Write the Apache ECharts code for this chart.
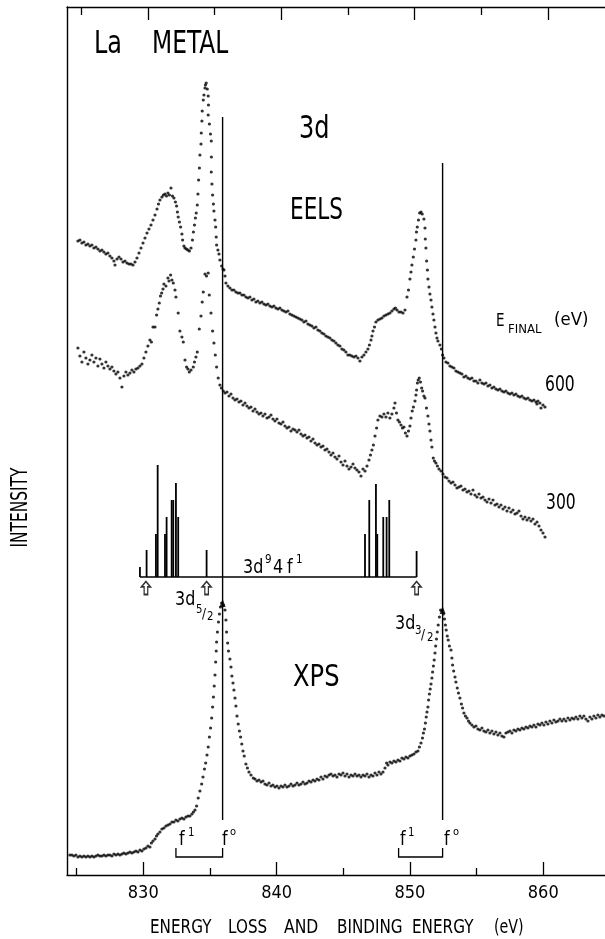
<!DOCTYPE html>
<html><head><meta charset="utf-8">
<script src="https://cdn.jsdelivr.net/npm/echarts@6/dist/echarts.min.js"></script>
<style>html,body{margin:0;padding:0;background:#fff}#c{width:605px;height:939px}</style>
</head><body><div id="c"></div>
<script>
// ---- data (energy in eV, intensity in arbitrary units) ----
const majorTicks = [830, 840, 850, 860];
const minorTicks = [825, 835, 845, 855];

const eels600 = [[825.10,634],[825.25,635],[825.40,632],[825.55,633],[825.70,630],[825.85,631],[826.00,629],[826.15,630],[826.30,627],[826.45,628],[826.60,626],[826.75,624],[826.90,625],[827.05,623],[827.20,621],[827.35,622],[827.50,619],[827.65,617],[827.80,614],[827.88,610],[828.03,616],[828.18,618],[828.33,616],[828.48,613],[828.63,614],[828.78,612],[828.93,611],[829.08,611],[829.23,610],[829.38,613],[829.53,617],[829.68,622],[829.83,627],[829.98,632],[830.13,637],[830.28,642],[830.43,646],[830.58,650],[830.73,655],[830.88,660],[831.03,666],[831.14,671],[831.25,675],[831.40,678],[831.51,680],[831.63,681],[831.74,679],[831.85,682],[831.96,680],[832.08,687],[832.19,679],[832.30,677],[832.41,673],[832.50,669],[832.56,663],[832.62,658],[832.71,653],[832.80,648],[832.90,641],[832.95,635],[833.05,629],[833.13,627],[833.24,626],[833.35,625],[833.46,624],[833.58,627],[833.69,635],[833.76,643],[833.84,650],[833.91,657],[833.97,662],[834.05,670],[834.10,681],[834.15,695],[834.21,707],[834.25,720],[834.33,731],[834.35,742],[834.40,754],[834.42,764],[834.50,775],[834.55,780],[834.63,787],[834.66,790],[834.72,792],[834.80,786],[834.87,779],[834.89,770],[834.87,760],[834.96,751],[835.04,741],[835.10,734],[835.11,718],[835.10,703],[835.15,691],[835.20,680],[835.26,671],[835.30,664],[835.38,655],[835.43,648],[835.47,638],[835.50,630],[835.60,625],[835.68,621],[835.75,615],[835.88,609],[835.98,606],[836.05,605],[836.13,599],[836.20,592],[836.35,589],[836.50,587],[836.65,585],[836.80,585],[836.95,583],[837.10,582],[837.25,582],[837.40,580],[837.55,580],[837.70,578],[837.85,577],[838.00,578],[838.15,575],[838.30,576],[838.45,573],[838.60,574],[838.75,572],[838.90,573],[839.05,571],[839.20,570],[839.35,571],[839.50,569],[839.65,568],[839.80,569],[839.95,567],[840.10,566],[840.25,567],[840.40,565],[840.55,564],[840.70,563],[840.85,564],[841.00,561],[841.15,560],[841.30,559],[841.45,558],[841.60,557],[841.75,556],[841.90,555],[842.05,553],[842.20,554],[842.35,551],[842.50,550],[842.65,549],[842.80,547],[842.95,548],[843.10,545],[843.25,544],[843.40,542],[843.55,541],[843.70,539],[843.85,538],[844.00,537],[844.15,535],[844.30,534],[844.45,532],[844.60,530],[844.75,529],[844.90,526],[845.05,525],[845.20,523],[845.35,520],[845.50,520],[845.65,519],[845.80,518],[845.95,519],[846.10,517],[846.25,514],[846.40,518],[846.55,520],[846.70,523],[846.85,526],[846.96,530],[847.08,535],[847.15,539],[847.23,544],[847.34,548],[847.45,553],[847.60,555],[847.75,556],[847.90,557],[848.05,559],[848.20,560],[848.35,561],[848.50,562],[848.65,564],[848.80,566],[848.91,567],[849.03,565],[849.18,563],[849.33,563],[849.48,562],[849.63,565],[849.78,578],[849.89,585],[850.00,596],[850.08,603],[850.15,610],[850.25,618],[850.34,626],[850.45,635],[850.49,643],[850.55,648],[850.64,655],[850.73,662],[850.83,663],[850.92,661],[851.05,656],[851.13,647],[851.15,636],[851.20,627],[851.25,614],[851.31,605],[851.35,596],[851.43,588],[851.50,581],[851.58,575],[851.65,568],[851.73,561],[851.80,555],[851.88,548],[851.95,542],[852.03,537],[852.10,534],[852.25,530],[852.36,526],[852.45,520],[852.55,517],[852.70,513],[852.85,512],[853.00,509],[853.15,508],[853.30,507],[853.45,504],[853.60,503],[853.75,502],[853.90,501],[854.05,498],[854.20,499],[854.35,497],[854.50,496],[854.65,497],[854.80,494],[854.95,494],[855.10,492],[855.25,495],[855.40,492],[855.55,491],[855.70,492],[855.85,489],[856.00,490],[856.15,487],[856.30,488],[856.45,486],[856.60,485],[856.75,486],[856.90,484],[857.05,483],[857.20,484],[857.35,482],[857.50,481],[857.65,482],[857.80,480],[857.95,481],[858.10,479],[858.25,478],[858.40,479],[858.55,477],[858.70,476],[858.85,477],[859.00,475],[859.15,474],[859.30,475],[859.45,473],[859.53,471],[859.60,474],[859.75,472],[859.83,467],[859.98,470],[860.13,468]];

const eels300 = [[825.10,527],[825.25,519],[825.40,513],[825.55,523],[825.70,517],[825.85,511],[826.00,515],[826.15,520],[826.30,513],[826.45,517],[826.60,509],[826.75,516],[826.90,511],[827.05,507],[827.20,513],[827.35,509],[827.50,506],[827.65,508],[827.80,504],[827.95,501],[828.10,503],[828.25,497],[828.40,488],[828.55,499],[828.70,503],[828.85,500],[829.00,502],[829.15,505],[829.30,503],[829.45,506],[829.60,507],[829.75,509],[829.90,511],[830.05,517],[830.20,523],[830.35,529],[830.50,535],[830.61,533],[830.73,548],[830.88,548],[831.00,560],[831.10,566],[831.20,572],[831.29,579],[831.38,582],[831.48,586],[831.55,591],[831.70,589],[831.85,597],[831.93,594],[832.05,600],[832.15,595],[832.25,592],[832.38,585],[832.45,578],[832.62,562],[832.75,544],[832.90,538],[833.00,533],[833.13,515],[833.25,508],[833.35,506],[833.45,503],[833.58,505],[833.75,508],[833.84,513],[833.95,518],[834.05,523],[834.20,546],[834.33,559],[834.42,573],[834.50,583],[834.63,601],[834.74,599],[834.87,602],[834.95,580],[835.08,562],[835.20,544],[835.30,532],[835.40,520],[835.50,508],[835.62,497],[835.75,490],[835.86,487],[836.00,484],[836.13,482],[836.28,483],[836.43,479],[836.58,481],[836.73,477],[836.88,475],[837.03,476],[837.18,473],[837.33,474],[837.48,470],[837.63,472],[837.78,469],[837.93,467],[838.08,468],[838.23,464],[838.38,466],[838.53,463],[838.68,461],[838.83,462],[838.98,459],[839.13,461],[839.28,457],[839.43,458],[839.58,460],[839.73,456],[839.88,454],[840.03,456],[840.18,452],[840.33,451],[840.48,453],[840.63,449],[840.78,447],[840.93,448],[841.08,444],[841.23,446],[841.38,445],[841.53,443],[841.68,445],[841.83,441],[841.98,439],[842.13,440],[842.28,437],[842.43,438],[842.58,434],[842.73,436],[842.88,432],[843.03,430],[843.18,431],[843.33,428],[843.48,429],[843.63,425],[843.78,426],[843.93,423],[844.08,420],[844.23,422],[844.38,418],[844.53,416],[844.68,419],[844.83,413],[844.98,410],[845.13,414],[845.28,409],[845.43,406],[845.58,408],[845.73,411],[845.88,407],[846.03,405],[846.18,403],[846.33,399],[846.48,406],[846.63,404],[846.78,409],[846.93,415],[847.04,420],[847.15,425],[847.26,430],[847.38,439],[847.50,447],[847.60,455],[847.75,459],[847.90,458],[848.05,461],[848.20,458],[848.35,462],[848.50,457],[848.65,461],[848.80,467],[848.88,472],[848.99,462],[849.10,455],[849.21,453],[849.33,450],[849.44,447],[849.55,448],[849.66,442],[849.78,439],[849.89,444],[850.00,449],[850.08,457],[850.17,464],[850.26,468],[850.38,474],[850.45,480],[850.50,485],[850.56,492],[850.62,495],[850.70,497],[850.79,493],[850.88,487],[850.95,484],[851.05,479],[851.13,477],[851.24,467],[851.35,459],[851.43,451],[851.50,444],[851.58,435],[851.65,428],[851.75,417],[851.84,414],[851.95,412],[852.06,409],[852.18,406],[852.33,404],[852.48,401],[852.63,398],[852.78,397],[852.93,394],[853.08,392],[853.23,393],[853.38,390],[853.53,387],[853.68,388],[853.83,389],[853.98,385],[854.13,386],[854.28,383],[854.43,384],[854.58,381],[854.73,385],[854.88,380],[855.03,378],[855.18,381],[855.33,377],[855.48,378],[855.63,375],[855.78,373],[855.93,376],[856.08,372],[856.23,375],[856.38,370],[856.53,371],[856.68,368],[856.83,370],[856.98,366],[857.13,368],[857.28,364],[857.43,367],[857.58,363],[857.73,365],[857.88,361],[858.03,362],[858.18,364],[858.33,359],[858.48,356],[858.63,358],[858.78,355],[858.93,357],[859.08,354],[859.23,356],[859.38,351],[859.53,353],[859.68,349],[859.83,345],[859.98,342],[860.13,338]];

const xps = [[824.50,20],[824.65,20],[824.80,19],[824.95,20],[825.10,18],[825.25,19],[825.40,18],[825.55,19],[825.70,18],[825.85,19],[826.00,18],[826.15,19],[826.30,18],[826.45,19],[826.60,20],[826.75,19],[826.90,19],[827.05,20],[827.20,19],[827.35,20],[827.50,20],[827.65,19],[827.80,21],[827.95,20],[828.10,21],[828.25,20],[828.40,21],[828.55,22],[828.70,21],[828.85,22],[829.00,23],[829.15,22],[829.30,23],[829.45,24],[829.60,23],[829.75,25],[829.90,24],[830.05,26],[830.20,27],[830.35,29],[830.50,28],[830.61,32],[830.73,34],[830.88,36],[830.99,39],[831.10,41],[831.25,43],[831.40,46],[831.55,47],[831.70,49],[831.85,50],[832.00,51],[832.15,53],[832.30,53],[832.45,55],[832.60,54],[832.75,56],[832.90,57],[833.05,56],[833.20,58],[833.35,59],[833.50,59],[833.65,61],[833.76,63],[833.88,65],[834.00,69],[834.12,77],[834.25,84],[834.38,91],[834.48,98],[834.59,106],[834.68,112],[834.78,120],[834.87,128],[834.96,138],[835.05,147],[835.13,157],[835.20,168],[835.26,178],[835.32,189],[835.38,200],[835.43,213],[835.47,224],[835.50,233],[835.56,243],[835.64,253],[835.71,261],[835.79,268],[835.88,272],[836.01,270],[836.13,265],[836.20,255],[836.25,243],[836.33,232],[836.39,224],[836.50,216],[836.58,208],[836.65,199],[836.73,192],[836.80,185],[836.88,177],[836.95,169],[837.03,159],[837.12,151],[837.21,144],[837.30,138],[837.39,131],[837.48,124],[837.57,119],[837.70,111],[837.81,107],[837.93,103],[838.08,100],[838.25,97],[838.38,96],[838.53,94],[838.68,95],[838.83,93],[838.98,94],[839.13,91],[839.28,90],[839.43,92],[839.58,89],[839.73,90],[839.88,88],[840.03,89],[840.18,87],[840.33,89],[840.48,88],[840.63,90],[840.78,88],[840.93,89],[841.08,91],[841.23,89],[841.38,90],[841.53,92],[841.68,90],[841.83,91],[841.98,93],[842.13,91],[842.28,92],[842.43,94],[842.58,93],[842.73,95],[842.88,94],[843.03,96],[843.18,95],[843.33,98],[843.48,96],[843.63,99],[843.78,98],[843.93,100],[844.08,101],[844.23,99],[844.38,100],[844.53,98],[844.68,101],[844.83,100],[844.98,102],[845.13,99],[845.28,101],[845.43,98],[845.58,100],[845.73,99],[845.88,101],[846.03,99],[846.18,100],[846.33,98],[846.48,100],[846.63,99],[846.78,101],[846.93,98],[847.08,100],[847.23,99],[847.38,102],[847.53,100],[847.68,103],[847.83,101],[847.98,103],[848.13,107],[848.25,112],[848.35,110],[848.50,113],[848.65,112],[848.80,114],[848.95,113],[849.10,115],[849.25,114],[849.40,117],[849.55,116],[849.70,118],[849.85,117],[850.00,119],[850.15,120],[850.30,121],[850.45,123],[850.60,124],[850.71,128],[850.83,132],[850.94,137],[851.01,142],[851.09,146],[851.16,152],[851.22,158],[851.28,163],[851.35,168],[851.40,175],[851.46,181],[851.52,186],[851.58,191],[851.65,197],[851.70,203],[851.76,209],[851.82,215],[851.88,222],[851.93,229],[851.99,236],[852.05,243],[852.12,250],[852.21,258],[852.30,265],[852.40,264],[852.51,261],[852.59,256],[852.66,250],[852.72,245],[852.80,239],[852.87,235],[852.96,229],[853.08,225],[853.15,217],[853.20,210],[853.28,204],[853.38,198],[853.45,193],[853.55,187],[853.64,182],[853.75,177],[853.86,171],[853.95,167],[854.05,162],[854.16,159],[854.28,157],[854.39,154],[854.50,152],[854.65,150],[854.80,148],[854.95,149],[855.10,146],[855.25,145],[855.40,147],[855.55,144],[855.70,143],[855.85,145],[856.00,142],[856.15,144],[856.30,141],[856.45,143],[856.60,140],[856.75,142],[856.90,139],[857.05,138],[857.20,142],[857.35,143],[857.50,144],[857.65,142],[857.80,145],[857.95,144],[858.10,146],[858.25,145],[858.40,147],[858.55,146],[858.70,148],[858.85,147],[859.00,149],[859.15,148],[859.30,150],[859.45,148],[859.60,151],[859.75,150],[859.90,152],[860.05,150],[860.20,153],[860.35,151],[860.50,154],[860.65,152],[860.80,155],[860.95,153],[861.10,154],[861.25,156],[861.40,154],[861.55,156],[861.70,154],[861.85,157],[862.00,155],[862.15,157],[862.30,156],[862.45,158],[862.60,156],[862.75,159],[862.90,157],[863.05,159],[863.20,156],[863.35,154],[863.50,158],[863.65,156],[863.80,159],[863.95,157],[864.10,160],[864.25,158],[864.40,160],[864.55,159]];

// 3d9 4f1 multiplet sticks: energies and heights above the stick baseline
const stickE = [829.75,830.25,830.95,831.08,831.63,831.75,832.13,832.25,832.45,832.62,834.75,846.63,846.95,847.45,847.55,848.00,848.25,848.45,850.50];
const stickH = [10,27,43,112,43,60,77,77,94,60,27,43,77,93,43,60,60,77,26];
const stickBase = 298;
const arrowE = [830.2, 834.75, 850.5];
const arrowLevel = 287;

// f0 reference lines and f1-f0 brackets
const f0E = [835.95, 852.45];
const f0Top = [758, 712];
const f0Bottom = 55;
const f1E = [832.45, 849.15];
const bracketBase = 18, bracketEnd = 27;
const xpsPeakI = [272, 265];

// ---- chart ----
const X_MIN = 824.28, X_MAX = 864.63, TOP_SHIFT = 0.34;
const INK = '#000';
const DOT = 3.2;
const FONT = '"DejaVu Sans", sans-serif';
const AXFONT = '"DejaVu Sans Condensed", "DejaVu Sans", sans-serif';

function xa(pos, customs, len, showLine, shift, showLabel) {
  return {
    type: 'value', gridIndex: 0, position: pos,
    min: X_MIN - shift, max: X_MAX - shift,
    axisLine: { show: showLine, onZero: false, lineStyle: { color: INK, width: 1.4 } },
    axisTick: { show: true, inside: true, length: len, customValues: customs, lineStyle: { color: INK, width: 1.3 } },
    axisLabel: showLabel ? { show: true, customValues: customs, margin: 9, color: INK, fontSize: 18, fontFamily: AXFONT } : { show: false },
    splitLine: { show: false }
  };
}

function txt(text, x, y, size, sx, extra) {
  return Object.assign({
    type: 'text', x: x, y: y, scaleX: sx, silent: true,
    style: { text: text, font: size + 'px ' + FONT, fill: INK,
      align: 'left', verticalAlign: 'middle', textAlign: 'left', textVerticalAlign: 'middle' }
  }, extra || {});
}

const vlineSeries = f0E.map((e, i) => ({
  type: 'line', xAxisIndex: 0, yAxisIndex: 0, silent: true, symbol: 'none',
  data: [[e, f0Top[i]], [e, f0Bottom]],
  lineStyle: { color: INK, width: 1.4 }
}));

const option = {
  animation: false,
  backgroundColor: '#fff',
  grid: { left: 67, right: 0, top: 7, bottom: 64, containLabel: false },
  xAxis: [
    xa('bottom', majorTicks, 13, true, 0, true),
    xa('bottom', minorTicks, 7, false, 0, false),
    xa('top', majorTicks, 13, true, TOP_SHIFT, false),
    xa('top', minorTicks, 8, false, TOP_SHIFT, false)
  ],
  yAxis: {
    type: 'value', min: 0, max: 868,
    axisLine: { show: true, onZero: false, lineStyle: { color: INK, width: 1.4 } },
    axisTick: { show: false }, axisLabel: { show: false }, splitLine: { show: false }
  },
  series: [
    { name: 'EELS 600 eV', type: 'scatter', data: eels600, symbolSize: DOT, itemStyle: { color: INK }, silent: true },
    { name: 'EELS 300 eV', type: 'scatter', data: eels300, symbolSize: DOT, itemStyle: { color: INK }, silent: true },
    { name: 'XPS', type: 'scatter', data: xps, symbolSize: DOT, itemStyle: { color: INK }, silent: true },
    { name: 'multiplet', type: 'custom', silent: true,
      data: stickE.map((e, i) => [e, stickH[i]]),
      renderItem: function (params, api) {
        const e = api.value(0), h = api.value(1);
        const p0 = api.coord([e, stickBase]), p1 = api.coord([e, stickBase + h]);
        return { type: 'line', shape: { x1: p0[0], y1: p0[1], x2: p1[0], y2: p1[1] },
          style: { stroke: INK, lineWidth: 1.8 } };
      } },
    { name: 'multiplet baseline', type: 'line', symbol: 'none', silent: true,
      data: [[stickE[0], stickBase], [stickE[stickE.length - 1], stickBase]],
      lineStyle: { color: INK, width: 1.4 } },
    { name: 'markers', type: 'scatter', silent: true,
      data: arrowE.map(e => [e, arrowLevel]),
      symbol: 'path://M4,0 L8,5 L5.6,5 L5.6,12 L2.4,12 L2.4,5 L0,5 Z',
      symbolSize: [9, 13],
      itemStyle: { color: '#fff', borderColor: INK, borderWidth: 1.5 } },
    ...vlineSeries,
    { name: 'peak arrows', type: 'scatter', silent: true,
      data: f0E.map((e, i) => [e, xpsPeakI[i]]),
      symbol: 'triangle', symbolSize: [6, 8], itemStyle: { color: INK } },
    { name: 'f1-f0 brackets', type: 'custom', silent: true,
      data: f1E.map((e, i) => [e, f0E[i]]),
      encode: { x: [0, 1] },
      renderItem: function (params, api) {
        const a = api.value(0), b = api.value(1);
        const p1 = api.coord([a, bracketEnd]), p2 = api.coord([a, bracketBase]);
        const p3 = api.coord([b, bracketBase]), p4 = api.coord([b, bracketEnd]);
        return { type: 'polyline', shape: { points: [p1, p2, p3, p4] },
          style: { stroke: INK, lineWidth: 1.3, fill: null } };
      } }
  ],
  graphic: [
    txt('La', 94, 45, 32, 0.75),
    txt('METAL', 152, 45, 32, 0.73),
    txt('3d', 299, 130, 32, 0.75),
    txt('EELS', 290, 211, 30, 0.72),
    txt('XPS', 293, 678, 31, 0.78),
    txt('E', 496, 321, 18, 0.75),
    txt('FINAL', 508, 330, 13, 0.9),
    txt('(eV)', 554, 320, 18, 0.92),
    txt('600', 545, 386, 20.5, 0.76),
    txt('300', 546, 504, 20.5, 0.76),
    txt('3d', 243, 567.5, 20, 0.8),
    txt('9', 265, 560, 13, 0.8),
    txt('4', 273, 567.5, 20, 0.8),
    txt('f', 287, 567.5, 20, 0.8),
    txt('1', 296, 560, 13, 0.8),
    txt('3d', 175, 599.5, 20, 0.8),
    txt('5', 196, 610, 12, 0.85),
    txt('/', 202, 614, 14, 0.85),
    txt('2', 207, 617, 12, 0.85),
    txt('3d', 395, 624, 20, 0.8),
    txt('3', 415, 631, 12, 0.85),
    txt('/', 421, 635, 14, 0.85),
    txt('2', 427, 638, 12, 0.85),
    txt('f', 179, 840, 20, 0.8),
    txt('1', 188, 833, 12, 0.85),
    txt('f', 222, 840, 20, 0.8),
    txt('o', 230, 832, 11, 0.9),
    txt('f', 400, 840, 20, 0.8),
    txt('1', 408, 833, 12, 0.85),
    txt('f', 444, 840, 20, 0.8),
    txt('o', 453, 832, 11, 0.9),
    txt('INTENSITY', 21.5, 507.5, 23, 0.67, { rotation: Math.PI / 2,
      style: { text: 'INTENSITY', font: '23px ' + FONT, fill: INK, align: 'center', verticalAlign: 'middle', textAlign: 'center', textVerticalAlign: 'middle' } }),
    txt('ENERGY', 150, 928, 19, 0.8),
    txt('LOSS', 228, 928, 19, 0.8),
    txt('AND', 284, 928, 19, 0.82),
    txt('BINDING', 337, 928, 19, 0.8),
    txt('ENERGY', 412, 928, 19, 0.8),
    txt('(eV)', 494, 928, 19, 0.75)
  ]
};

const chart = echarts.init(document.getElementById('c'), null, { renderer: 'canvas', width: 605, height: 939 });
chart.setOption(option);
</script>
</body></html>
